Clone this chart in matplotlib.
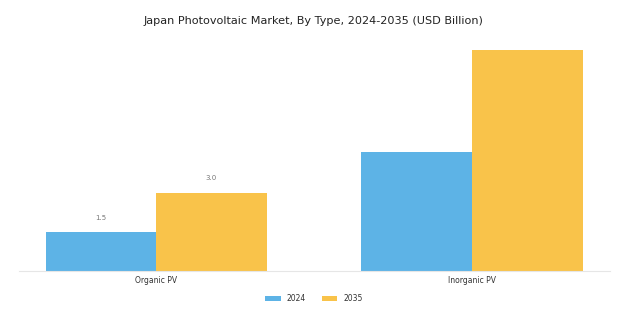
import matplotlib
matplotlib.use("Agg")
import matplotlib.pyplot as plt
import numpy as np

categories = ["Organic PV", "Inorganic PV"]
years = ["2024", "2035"]
values_2024 = [1.5, 4.54]
values_2035 = [3.0, 8.42]
labels_2024 = ["1.5", None]
labels_2035 = ["3.0", None]

colors = ["#5DB3E6", "#F9C34A"]

fig = plt.figure(figsize=(6.27, 3.28), dpi=100)
ax = fig.add_axes([0.0303, 0.1723, 0.9426, 0.709])

x = np.arange(len(categories))
w = 0.35
b1 = ax.bar(x - w / 2, values_2024, w, color=colors[0], label=years[0], edgecolor="none")
b2 = ax.bar(x + w / 2, values_2035, w, color=colors[1], label=years[1], edgecolor="none")

for bars, labs in ((b1, labels_2024), (b2, labels_2035)):
    for rect, lab in zip(bars, labs):
        if lab:
            ax.annotate(lab, (rect.get_x() + rect.get_width() / 2, rect.get_height()),
                        xytext=(0, 8), textcoords="offset points", ha="center", va="bottom",
                        fontsize=5, color="#777777")

ax.set_xlim(-0.434, 1.437)
ax.set_ylim(0, 8.84)
ax.set_xticks(x)
ax.set_xticklabels(categories, fontsize=5.5, color="#333333")
ax.tick_params(axis="x", length=0, pad=3)
ax.set_yticks([])
for s in ["top", "right", "left"]:
    ax.spines[s].set_visible(False)
ax.spines["bottom"].set_color("#e6e6e6")
ax.spines["bottom"].set_linewidth(0.8)

fig.text(0.5, 0.937, "Japan Photovoltaic Market, By Type, 2024-2035 (USD Billion)",
         ha="center", va="center", fontsize=8.1, color="#222222")

fig.legend(handles=[b1, b2], labels=years, loc="center", bbox_to_anchor=(0.501, 0.09),
           ncol=2, frameon=False, fontsize=5.5, handlelength=2.0, handleheight=0.6,
           columnspacing=2.1, handletextpad=0.8, labelcolor="#333333")

fig.savefig("out.png", dpi=100)
